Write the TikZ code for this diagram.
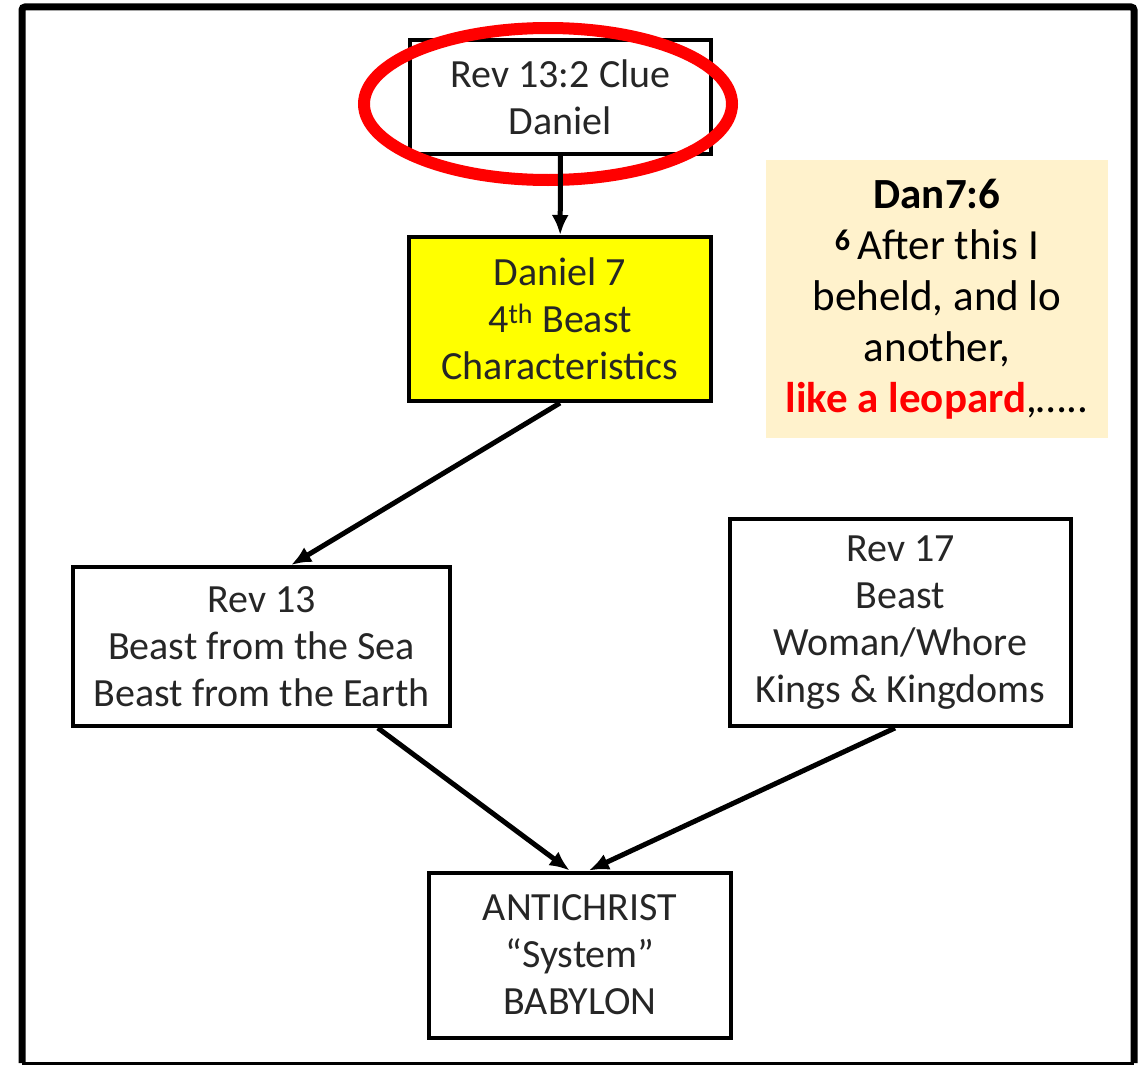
\documentclass[tikz,border=0pt]{standalone}
\usepackage{fontspec}
\setmainfont{Carlito}
\usepackage{tikz}
\usetikzlibrary{arrows.meta}
\definecolor{notebg}{HTML}{FFF2CC}
\definecolor{hlyellow}{HTML}{FFFF00}

\begin{document}
\begin{tikzpicture}[x=1pt, y=-1pt, box/.style={draw, rectangle, line width=4pt, inner sep=0pt, align=center, font=\fontsize{40}{47}\selectfont, text=black!85}, hl/.style={box, fill=hlyellow}, info/.style={rectangle, fill=notebg, inner sep=0pt, align=center, font=\fontsize{43}{51}\selectfont}, n/.style={-{Latex[length=20pt, width=17pt]}, line width=5pt}]
        \useasboundingbox (0,0) rectangle (1148,1065);
        % frame
        \draw[line width=7pt, rounded corners=3pt] (22,1063) -- (22,7) -- (1134,7) -- (1134,1063);
        \draw[line width=3pt] (22,1063) -- (1134,1063);
        % nodes
        \node[box, minimum width=301pt, minimum height=114pt] (clue) at (560.5,97) {Rev 13:2 Clue\\Daniel};
        \node[hl, minimum width=302pt, minimum height=164pt] (dan) at (560,319) {Daniel 7\\4\textsuperscript{th} Beast\\Characteristics};
        \node[info, minimum width=342pt, minimum height=278pt] (verse) at (937,299) {\textbf{Dan7:6}\\\textsuperscript{\textbf{6}}\,After this I\\beheld, and lo\\another,\\\textcolor{red}{\textbf{like a leopard}},\dots..};
        \node[box, minimum width=377pt, minimum height=159pt] (rev13) at (261.5,646.5) {Rev 13\\Beast from the Sea\\Beast from the Earth};
        \node[box, minimum width=341pt, minimum height=207pt] (rev17) at (900.5,622.5) {Rev 17\\Beast\\Woman/Whore\\Kings \& Kingdoms};
        \node[box, minimum width=302pt, minimum height=165pt] (anti) at (580,955) {ANTICHRIST\\``System''\\BABYLON};
        % mark
        \draw[red, line width=12pt] (548,104) ellipse [x radius=184pt, y radius=76pt];
        % edges
        \draw [n] (clue) -- (dan);
        \draw [n] (dan.south) -- (rev13.70);
        \draw [n] (rev13.-35) -- (anti.97);
        \draw [n] (rev17.-93) -- (anti.84);
    \end{tikzpicture}
\end{document}
